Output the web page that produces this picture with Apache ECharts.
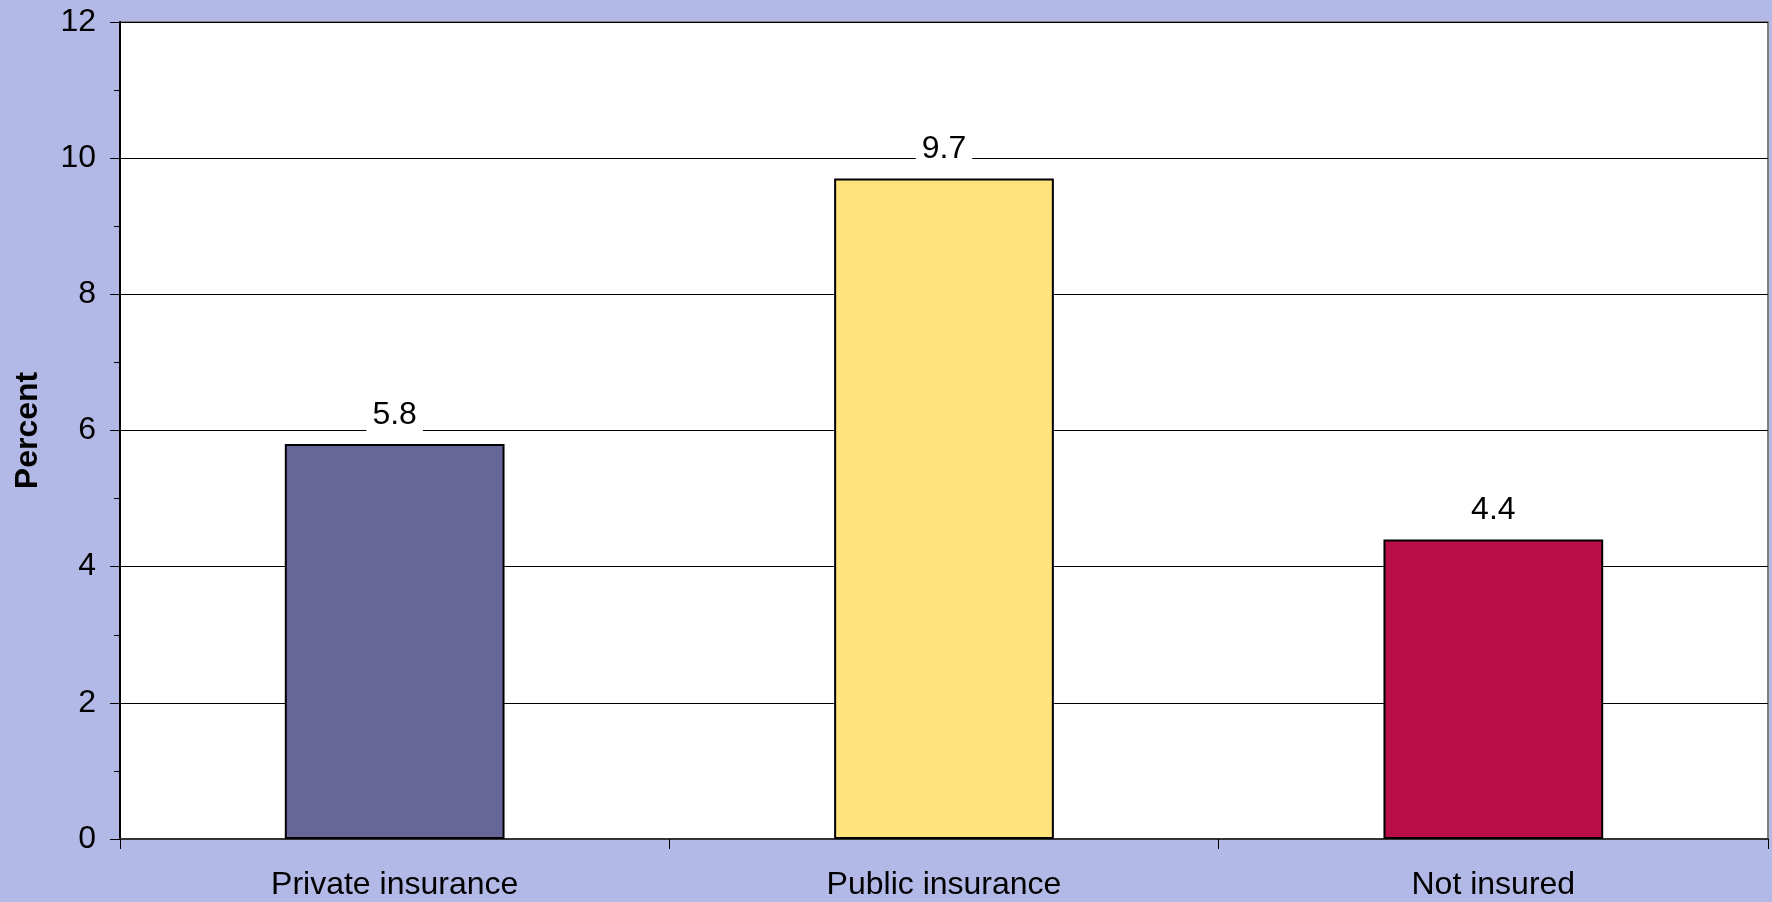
<!DOCTYPE html>
<html>
<head>
<meta charset="utf-8">
<script src="https://cdn.jsdelivr.net/npm/echarts@6/dist/echarts.min.js"></script>
<style>
html,body{margin:0;padding:0;background:#B3B9E6;}
#chart{width:1772px;height:902px;}
</style>
</head>
<body>
<div id="chart"></div>
<script>
var categories = ["Private insurance", "Public insurance", "Not insured"];
var values = [5.8, 9.7, 4.4];
var barColors = ["#666699", "#FFE37C", "#BA0E48"];
var yTicks = [0, 2, 4, 6, 8, 10, 12];

var chart = echarts.init(document.getElementById('chart'));
var font = 'Liberation Sans, Arial, sans-serif';
chart.setOption({
  backgroundColor: '#B3B9E6',
  animation: false,
  grid: {
    left: 120, right: 4, top: 22, bottom: 63,
    show: true, backgroundColor: '#ffffff', borderColor: '#808080', borderWidth: 2
  },
  xAxis: {
    type: 'category',
    data: categories,
    boundaryGap: true,
    axisLine: {lineStyle: {color: '#333333', width: 2}},
    axisTick: {show: true, length: 10, alignWithLabel: false, lineStyle: {color: '#000', width: 1}},
    axisLabel: {color: '#000', fontSize: 32, fontFamily: font, margin: 30}
  },
  yAxis: {
    type: 'value',
    min: yTicks[0], max: yTicks[yTicks.length - 1], interval: 2,
    name: 'Percent',
    nameLocation: 'middle',
    nameGap: 76,
    nameTextStyle: {color: '#000', fontSize: 32, fontWeight: 'bold', fontFamily: font},
    axisLine: {show: true, lineStyle: {color: '#000', width: 2}},
    axisTick: {show: true, length: 10, lineStyle: {color: '#000', width: 1}},
    minorTick: {show: true, splitNumber: 2, length: 6, lineStyle: {color: '#000', width: 1}},
    splitLine: {show: true, lineStyle: {color: '#000', width: 1}},
    axisLabel: {color: '#000', fontSize: 32, fontFamily: font, margin: 24}
  },
  series: [{
    type: 'bar',
    barWidth: '40%',
    data: values.map(function (v, i) {
      return {value: v, itemStyle: {color: barColors[i]}};
    }),
    itemStyle: {borderColor: '#000', borderWidth: 2},
    label: {
      show: true, position: 'top', distance: 11,
      color: '#000', fontSize: 32, fontFamily: font,
      backgroundColor: '#ffffff', padding: [2, 6],
      formatter: function (p) { return p.value.toFixed(1); }
    }
  }]
});
</script>
</body>
</html>
